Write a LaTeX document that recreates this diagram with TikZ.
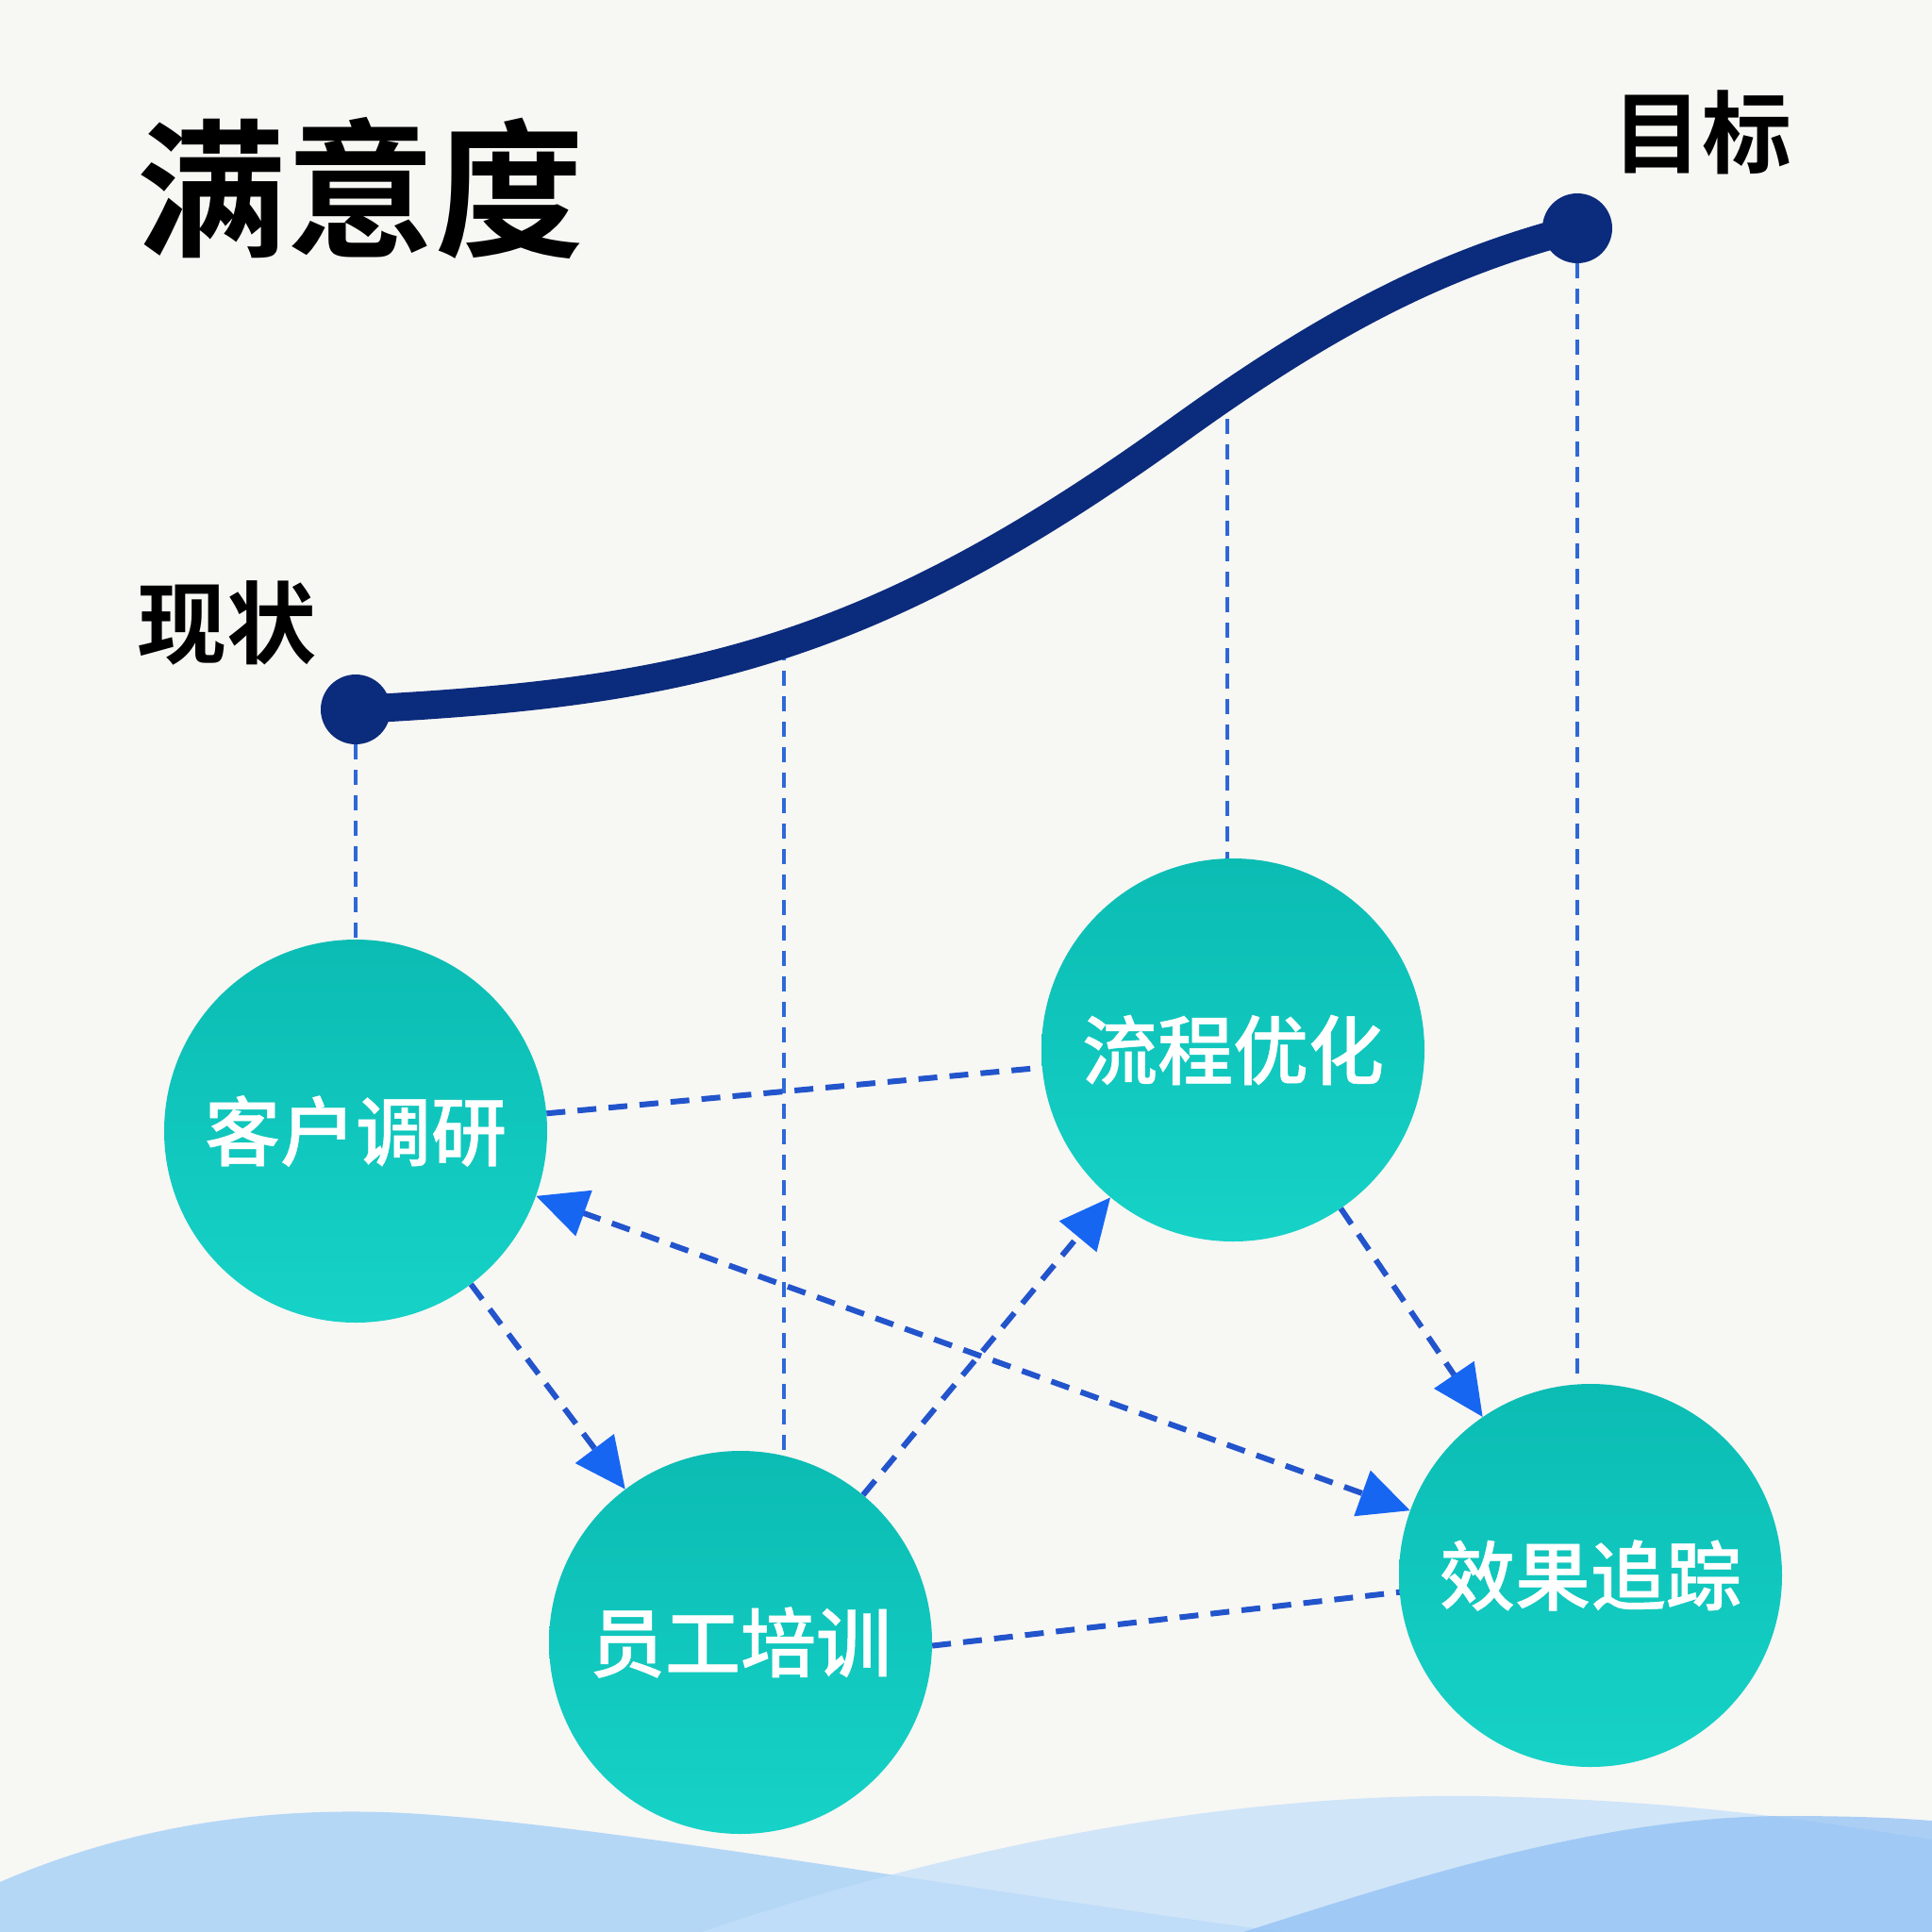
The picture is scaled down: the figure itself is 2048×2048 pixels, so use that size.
\documentclass[tikz,border=0pt]{standalone}
\usepackage{fontspec}
\newfontfamily\cjkb{Noto Sans CJK SC Bold}
\newfontfamily\cjkm{Noto Sans CJK SC Medium}[FakeBold=0.6]
\usetikzlibrary{arrows.meta,calc}
\definecolor{bg}{HTML}{F7F7F4}
\definecolor{navy}{HTML}{0B2B7C}
\definecolor{dashblue}{HTML}{2254CC}
\definecolor{vblue}{HTML}{2E68D8}
\definecolor{tipblue}{HTML}{1766F2}
\definecolor{tealA}{HTML}{0BBCB3}
\definecolor{tealB}{HTML}{16D2C7}
\definecolor{waveA}{HTML}{A4D0F7}
\definecolor{waveB}{HTML}{C3DFFA}
\definecolor{waveC}{HTML}{8CBEF4}
\tikzset{
  bubble/.style={circle, minimum size=406pt, inner sep=0pt, top color=tealA, bottom color=tealB, draw=none, text=white, font=\cjkm\fontsize{80}{80}\selectfont},
  dotnode/.style={circle, fill=navy, minimum size=74pt, inner sep=0pt},
  conn/.style={draw=dashblue, line width=6pt, dash pattern=on 20pt off 13pt},
  vline/.style={draw=vblue, line width=4.5pt, dash pattern=on 16pt off 11pt},
  arr/.style={-{Triangle[length=54pt,width=50pt,color=tipblue]}},
  arrtwo/.style={{Triangle[length=54pt,width=50pt,color=tipblue]}-{Triangle[length=54pt,width=50pt,color=tipblue]}},
  lab/.style={font=\cjkb\fontsize{95}{95}\selectfont, text=black, inner sep=0pt},
}
\begin{document}
\begin{tikzpicture}[x=1pt,y=-1pt]
\fill[bg] (0,0) rectangle (2048,2048);
\useasboundingbox (0,0) rectangle (2048,2048);
% waves
\fill[waveA, fill opacity=0.8] (0,2048) -- (0,1995) .. controls (150,1930) and (300,1915) .. (431,1922) .. controls (650,1935) and (1000,2000) .. (1360,2048) -- cycle;
\fill[waveB, fill opacity=0.75] (744,2048) .. controls (1000,1960) and (1300,1900) .. (1567,1904) .. controls (1800,1908) and (1950,1935) .. (2048,1950) -- (2048,2048) -- cycle;
\fill[waveC, fill opacity=0.7] (1318,2048) .. controls (1500,1990) and (1700,1925) .. (1893,1925) .. controls (1980,1925) and (2020,1928) .. (2048,1930) -- (2048,2048) -- cycle;
% titles
\node[font=\cjkb\fontsize{158}{158}\selectfont, inner sep=0pt] (title) at (382,199) {满意度};
\node[lab] (goal) at (1804,140) {目标};
\node[lab] (now) at (240,660) {现状};
% dots
\node[dotnode] (cur) at (377,752) {};
\node[dotnode] (tgt) at (1672,242) {};
\coordinate (q2) at (831,684);
\coordinate (q3) at (1301,417);
% circles
\node[bubble] (kh) at (377,1199) {客户调研};
\node[bubble] (yg) at (785,1741) {员工培训};
\node[bubble] (lc) at (1307,1113) {流程优化};
\node[bubble] (xg) at (1686,1670) {效果追踪};
% vertical dashed lines
\draw[vline] (cur) -- (kh);
\draw[vline] (q2) -- (q2 |- yg.77);
\draw[vline] (q3) -- (q3 |- lc.north);
\draw[vline] (tgt) -- (tgt |- xg.north);
% curve
\draw[navy, line width=30pt, line cap=round] (cur.center) .. controls (727,734) and (920,693) .. (1250,455) .. controls (1400,347) and (1522,280) .. (tgt.center);
% connectors
\draw[conn] (kh) -- (lc);
\draw[conn, arr] (kh) -- (yg);
\draw[conn, arr] (yg) -- (lc);
\draw[conn, arr] (lc) -- (xg);
\draw[conn, arrtwo] (kh) -- (xg);
\draw[conn] (yg.359) -- (xg.185);
\end{tikzpicture}
\end{document}
